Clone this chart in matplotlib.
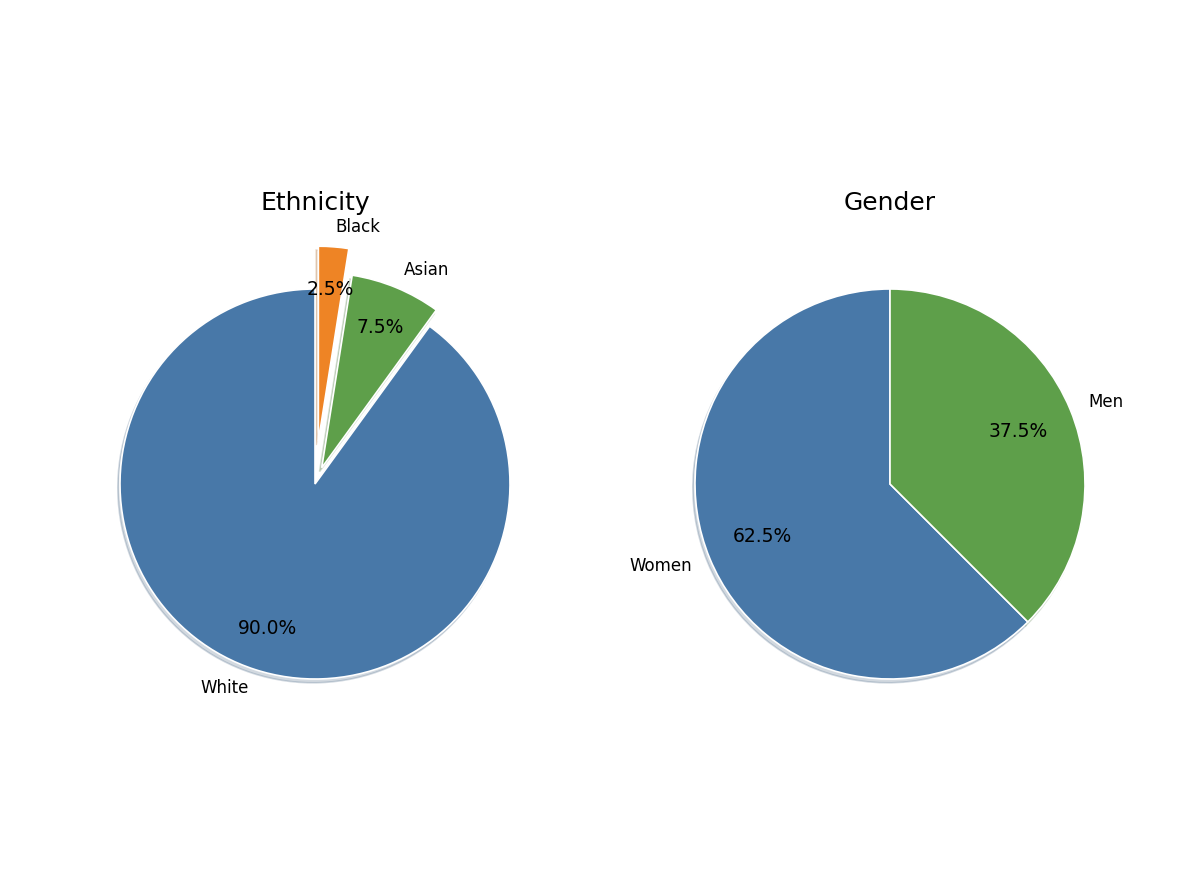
import matplotlib.pyplot as plt

# data
eth_labels = ["White", "Asian", "Black"]
eth_values = [90.0, 7.5, 2.5]
eth_explode = [0.0, 0.09, 0.22]
eth_colors = ["#4878a8", "#5e9f4a", "#ee8425"]

gen_labels = ["Women", "Men"]
gen_values = [62.5, 37.5]
gen_colors = ["#4878a8", "#5e9f4a"]

fig = plt.figure(figsize=(12, 8.96), dpi=100)

# axes boxes sized so radius 1 ~ 195 px
w = 487.5 / 1200
h = 487.5 / 896
cy = (896 - 484) / 896
ax1 = fig.add_axes([315 / 1200 - w / 2, cy - h / 2, w, h])
ax2 = fig.add_axes([890 / 1200 - w / 2, cy - h / 2, w, h])

shadow = {"ox": -0.008, "oy": -0.014, "shade": 0.3, "alpha": 0.22}
wedge_kw = {"edgecolor": "white", "linewidth": 1.2}

ax1.pie(eth_values, labels=eth_labels, colors=eth_colors, explode=eth_explode,
        autopct="%1.1f%%", startangle=90, pctdistance=0.78, labeldistance=1.1,
        shadow=shadow, wedgeprops=wedge_kw,
        textprops={"fontsize": 12})
for t in ax1.texts:
    if t.get_text().endswith("%"):
        t.set_fontsize(13.5)
ax1.set_title("Ethnicity", fontsize=18, pad=22)

ax2.pie(gen_values, labels=gen_labels, colors=gen_colors,
        autopct="%1.1f%%", startangle=90, pctdistance=0.71, labeldistance=1.1,
        shadow=shadow, wedgeprops=wedge_kw,
        textprops={"fontsize": 12})
for t in ax2.texts:
    if t.get_text().endswith("%"):
        t.set_fontsize(13.5)
ax2.set_title("Gender", fontsize=18, pad=22)

for ax in (ax1, ax2):
    ax.set_xlim(-1.25, 1.25)
    ax.set_ylim(-1.25, 1.25)
    ax.set_aspect("equal")

fig.savefig("out.png", dpi=100)
